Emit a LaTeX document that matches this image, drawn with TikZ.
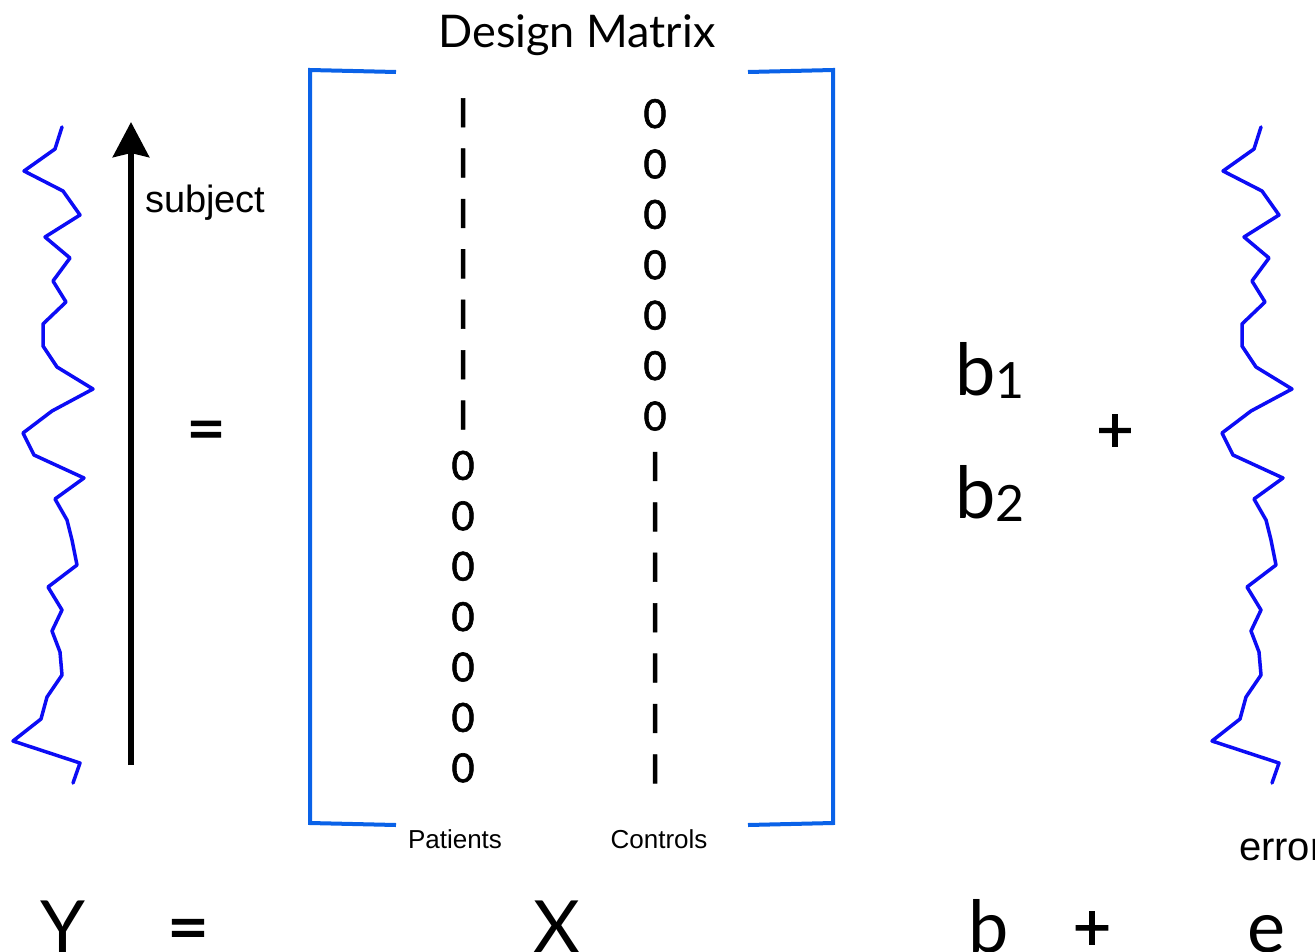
\documentclass[tikz,border=0pt]{standalone}
\usepackage{fontspec}
\setmainfont{Lato}
\newfontfamily\hv{Liberation Sans}
\newfontfamily\gillb[FakeBold=1.5]{Lato}
\usetikzlibrary{arrows.meta}
\definecolor{bracketblue}{RGB}{10,98,232}
\definecolor{wiggle}{RGB}{12,12,245}
\newcommand\fsz[1]{\fontsize{#1}{#1}\selectfont}
\begin{document}
\begin{tikzpicture}[x=1pt,y=-1pt,
  every node/.style={inner sep=0pt, outer sep=0pt},
  gill/.style={font=\fsz{#1}},
  gillbold/.style={font=\gillb\fsz{#1}},
  helv/.style={font=\hv\fsz{#1}},
  cell/.style={font=\gillb\fsz{40}, anchor=base},
  bkt/.style={draw=bracketblue, line width=4pt, line join=miter},
  squig/.style={draw=wiggle, line width=3.5pt, line join=round, line cap=round},
  bigarrow/.style={line width=6.5pt, -{Stealth[length=35pt,width=36pt,inset=4pt]}}]
\path[use as bounding box, clip] (0,0) rectangle (1315,951);
\fill[white] (0,0) rectangle (1315,951);

% data and error wiggles
\foreach \s in {0,1199} {
\begin{scope}[shift={(\s,0)}]
\draw[squig] (62,127) -- (55,149) -- (24,171) -- (63,191) -- (80,215) -- (45,237) -- (70,258) -- (53,281) -- (66,302) -- (43,324) -- (43,346) -- (57,367) -- (93,389) -- (52,411) -- (23,433) -- (34,455) -- (84,478) -- (55,499) -- (67,520) -- (72,540) -- (77,565) -- (48,587) -- (62,610) -- (52,631) -- (60,652) -- (62,675) -- (47,697) -- (41,719) -- (13,741) -- (80,763) -- (73,783);
\end{scope}}

% subject arrow
\coordinate (arrowfoot) at (131,765);
\coordinate (arrowtip) at (131,122);
\draw[bigarrow] (arrowfoot) -- (arrowtip);
\node[helv=38, anchor=base west] (subject) at (145,212) {subject};

% equals and plus
\node[gillbold=68, anchor=base] (eq) at (206,452) {=};
\node[gillbold=64, anchor=base] (plus) at (1115,452) {+};

% title
\node[gill=45, anchor=base] (title) at (577,47) {Design Matrix};

% brackets
\draw[bkt] (396,72) -- (310,70) -- (310,823) -- (396,825);
\draw[bkt] (748,72) -- (833,70) -- (833,823) -- (748,825);

% matrix entries
\foreach \a/\b [count=\i from 0] in {I/0,I/0,I/0,I/0,I/0,I/0,I/0,0/I,0/I,0/I,0/I,0/I,0/I,0/I} {
  \node[cell] (pat\i) at (463,{127+50.4*\i}) {\a};
  \node[cell] (con\i) at (655,{128+50.4*\i}) {\b};
}
\node[helv=26, anchor=base] (patients) at (455,848) {Patients};
\node[helv=26, anchor=base] (controls) at (659,848) {Controls};

% betas
\node[gill=72, anchor=base west] (b1) at (955,395) {b{\fsz{50}\raisebox{-3pt}{1}}};
\node[gill=72, anchor=base west] (b2) at (955,518) {b{\fsz{50}\raisebox{-3pt}{2}}};

\node[helv=40, anchor=base west] (error) at (1239,860) {error};

% bottom equation
\node[gill=72, anchor=base] (Y) at (63,952) {Y};
\node[gillbold=72, anchor=base] (eqb) at (188,952) {=};
\node[gill=72, anchor=base] (X) at (557,952) {X};
\node[gill=72, anchor=base] (b) at (989,952) {b};
\node[gillbold=66, anchor=base] (plusb) at (1092,950) {+};
\node[gill=72, anchor=base] (e) at (1266,952) {e};
\end{tikzpicture}
\end{document}
